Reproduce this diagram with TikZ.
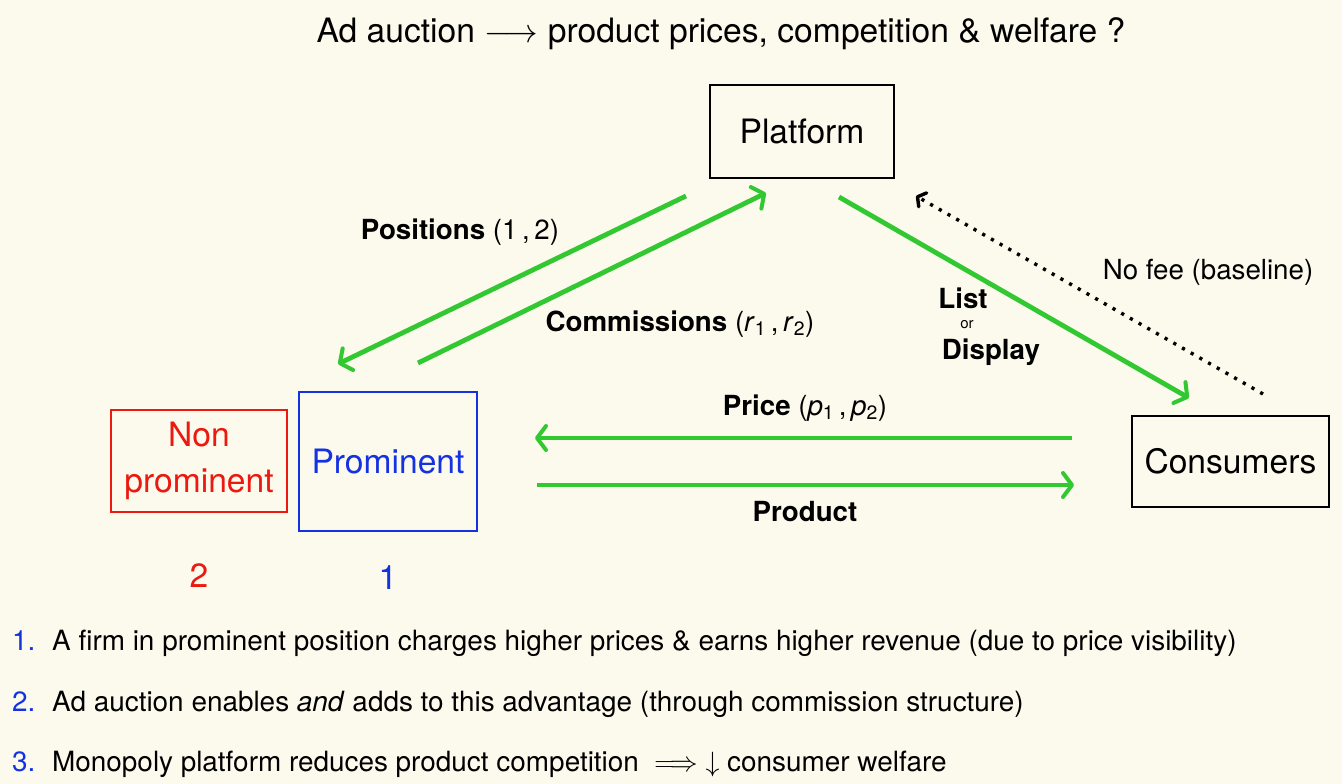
\documentclass[tikz,border=0pt]{standalone}
\usepackage{fix-cm}
\usepackage{fontspec}
\setmainfont{TeX Gyre Heros}
\usetikzlibrary{arrows.meta}
\definecolor{bgcream}{RGB}{252,250,237}
\definecolor{flowgreen}{RGB}{50,200,50}
\definecolor{firmblue}{RGB}{20,50,225}
\definecolor{firmred}{RGB}{235,25,15}
\newcommand{\bigtxt}{\fontsize{33.6}{46}\selectfont}
\newcommand{\lbltxt}{\fontsize{27.7}{33}\selectfont}
\newcommand{\itemtxt}{\fontsize{27.9}{33}\selectfont}
\newcommand{\smalltxt}{\fontsize{15}{18}\selectfont}
\newcommand{\varsub}[2]{\textit{#1}\textsubscript{#2}}
\begin{document}
\begin{tikzpicture}[x=1pt,y=-1pt,
  agent/.style={draw=black,line width=1.8pt,inner sep=0pt,font=\bigtxt,text=black},
  flow/.style={draw=flowgreen,line width=4.8pt,
    -{Straight Barb[length=9pt,width=24pt,line width=4pt,round]}},
  nofee/.style={draw=black,line width=3.4pt,dash pattern=on 3.2pt off 6.8pt,
    -{Straight Barb[length=6pt,width=16pt,line width=3.4pt,round]}},
  lbl/.style={font=\lbltxt,inner sep=0pt},
  item/.style={font=\itemtxt,anchor=base west,inner sep=0pt}]
  % canvas
  \fill[bgcream] (0,0) rectangle (1342,784);
  \useasboundingbox (0,0) rectangle (1342,784);

  % heading
  \node[font=\bigtxt,anchor=base,inner sep=0pt] (title) at (721,43)
    {Ad auction $\longrightarrow$ product prices, competition \& welfare ?};

  % agents
  \node[agent,minimum width=184pt,minimum height=93pt] (platform) at (802,131.5) {Platform};
  \node[agent,draw=firmred,text=firmred,minimum width=176pt,minimum height=102pt,align=center]
    (nonprom) at (199,461) {Non\\prominent};
  \node[agent,draw=firmblue,text=firmblue,minimum width=178pt,minimum height=139pt]
    (prom) at (388,461.5) {Prominent};
  \node[agent,minimum width=197pt,minimum height=91pt] (consumers) at (1230.5,461.5) {Consumers};

  % position numbers
  \node[font=\bigtxt,text=firmred,inner sep=0pt] (rank2) at (199,576) {2};
  \node[font=\bigtxt,text=firmblue,inner sep=0pt] (rank1) at (388,578) {1};

  % connector ends
  \coordinate (posS) at (686,196);
  \coordinate (posE) at (338,364);
  \coordinate (comS) at (418,363);
  \coordinate (comE) at (766,193);
  \coordinate (lstS) at (839,197);
  \coordinate (lstE) at (1189,398);
  \coordinate (feeS) at (1263,394);
  \coordinate (feeE) at (916,196);
  \coordinate (prcS) at (1072,438);
  \coordinate (prcE) at (535,438);
  \coordinate (prdS) at (537,485);
  \coordinate (prdE) at (1074,485);

  % flows between platform, firms and consumers
  \draw[flow] (posS) -- (posE);
  \draw[flow] (comS) -- (comE);
  \draw[flow] (lstS) -- (lstE);
  \draw[nofee] (feeS) -- (feeE);
  \draw[flow] (prcS) -- (prcE);
  \draw[flow] (prdS) -- (prdE);

  % flow labels
  \node[lbl] (lpos) at (460,232) {\textbf{Positions} (1\,,\,2)};
  \node[lbl] (lcom) at (680,324) {\textbf{Commissions} (\varsub{r}{1}\,,\,\varsub{r}{2})};
  \node[lbl] (lfee) at (1208,272) {No fee (baseline)};
  \node[lbl] (llist) at (963,298) {\textbf{List}};
  \node[font=\smalltxt,inner sep=0pt] (lor) at (967,325) {or};
  \node[lbl] (ldisp) at (991,352) {\textbf{Display}};
  \node[lbl] (lprice) at (805,408) {\textbf{Price} (\varsub{p}{1}\,,\,\varsub{p}{2})};
  \node[lbl] (lprod) at (805,512) {\textbf{Product}};

  % findings
  \node[item,text=firmblue] (n1) at (12,650) {1.};
  \node[item] (t1) at (52,650) {A firm in prominent position charges higher prices \& earns higher revenue (due to price visibility)};
  \node[item,text=firmblue] (n2) at (12,711) {2.};
  \node[item] (t2) at (52,711) {Ad auction enables \textit{and} adds to this advantage (through commission structure)};
  \node[item,text=firmblue] (n3) at (12,771) {3.};
  \node[item] (t3) at (52,771) {Monopoly platform reduces product competition ~$\Longrightarrow$ $\downarrow$ consumer welfare};
\end{tikzpicture}
\end{document}
